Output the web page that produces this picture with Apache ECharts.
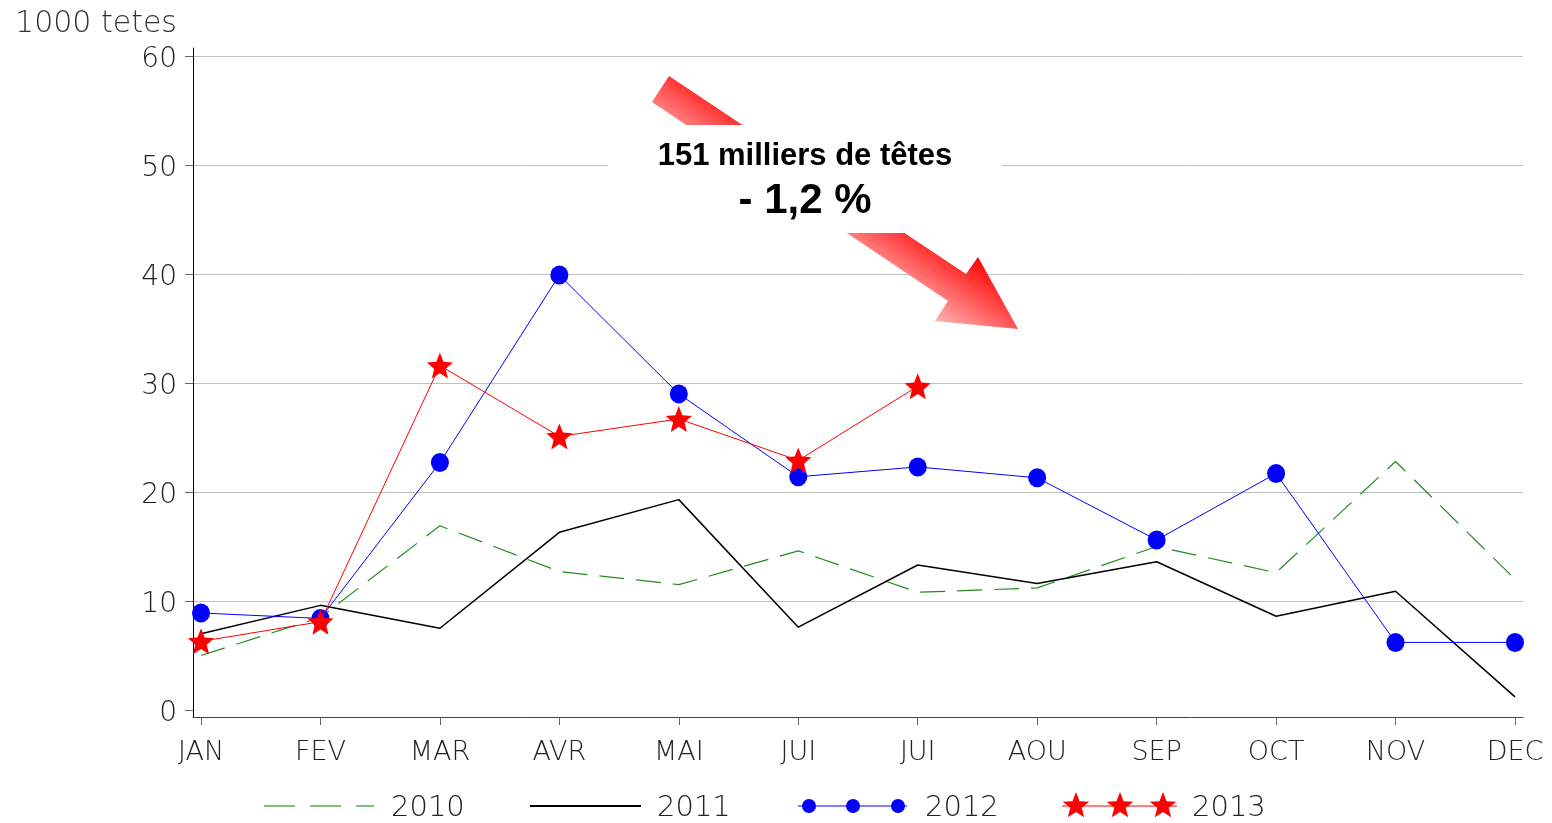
<!DOCTYPE html>
<html><head><meta charset="utf-8">
<script src="https://cdn.jsdelivr.net/npm/echarts@6/dist/echarts.min.js"></script>
<style>html,body{margin:0;padding:0;background:#fff}#c{width:1552px;height:823px}</style>
</head><body><div id="c"></div>
<script>
// ---- data ----
const months = ['JAN','FEV','MAR','AVR','MAI','JUI','JUI','AOU','SEP','OCT','NOV','DEC'];
const y2010 = [5.0, 8.5, 16.9, 12.7, 11.5, 14.6, 10.8, 11.2, 15.0, 12.6, 22.8, 12.0];
const y2011 = [7.0, 9.6, 7.5, 16.3, 19.3, 7.6, 13.3, 11.6, 13.6, 8.6, 10.9, 1.2];
const y2012 = [8.9, 8.4, 22.7, 39.9, 29.0, 21.4, 22.3, 21.3, 15.6, 21.7, 6.2, 6.2];
const y2013 = [6.3, 8.1, 31.6, 25.1, 26.7, 22.9, 29.7];
const yTicks = [0, 10, 20, 30, 40, 50, 60];
const seriesNames = ['2010', '2011', '2012', '2013'];
const yUnit = '1000 tetes';
const noteLine1 = '151 milliers de têtes';
const noteLine2 = '- 1,2 %';

// ---- styling helpers ----
const LIGHT = '"DejaVu Sans"';
const STAR = 'path://M0,-10L2.6,-3.6L9.5,-3.1L4.2,1.4L5.9,8.1L0,4.4L-5.9,8.1L-4.2,1.4L-9.5,-3.1L-2.6,-3.6Z';
const monthIdx = months.map((m, i) => i);
const pairs = arr => arr.map((v, i) => [i, v]);
const X_MIN = -0.067, X_MAX = 11.067;

function starPoints(cx, cy, R, r) {
  const pts = [];
  for (let k = 0; k < 10; k++) {
    const a = -Math.PI / 2 + k * Math.PI / 5;
    const rad = k % 2 === 0 ? R : r;
    pts.push([cx + rad * Math.cos(a), cy + rad * Math.sin(a)]);
  }
  return pts;
}

const chart = echarts.init(document.getElementById('c'), null, {renderer: 'canvas'});

const legendY = 806;
const legendText = (x, t) => ({type: 'text', x: x, y: legendY + 2, z: 10,
  style: {text: t, fill: '#222', font: '200 29px ' + LIGHT, textVerticalAlign: 'middle', textAlign: 'left'}});

const graphics = [
  // y unit
  {type: 'text', x: 177, y: 24, style: {text: yUnit, fill: '#333', font: '200 30px ' + LIGHT, textAlign: 'right', textVerticalAlign: 'middle'}},
  // arrow
  {type: 'polygon', z: 5, shape: {points: [[669,76],[966,274],[978,257],[1018,329],[935,321],[948,301],[652,102]]},
   style: {fill: {type: 'linear', x: 639, y: 121, x2: 682, y2: 57, global: true,
     colorStops: [{offset: 0, color: '#ffb0b0'}, {offset: 1, color: '#ff0000'}]}}},
  {type: 'rect', z: 6, shape: {x: 608, y: 125, width: 394, height: 108}, style: {fill: '#fff'}},
  {type: 'text', z: 7, x: 805, y: 156, style: {text: noteLine1, fill: '#000', font: 'bold 31px "Liberation Sans", Arial', textAlign: 'center', textVerticalAlign: 'middle'}},
  {type: 'text', z: 7, x: 805, y: 201, style: {text: noteLine2, fill: '#000', font: 'bold 42px "Liberation Sans", Arial', textAlign: 'center', textVerticalAlign: 'middle'}},
  // legend 2010
  {type: 'line', z: 10, shape: {x1: 264, y1: legendY, x2: 374, y2: legendY}, style: {stroke: '#7fbf7f', lineWidth: 2, lineDash: [31, 15]}},
  legendText(391, seriesNames[0]),
  // legend 2011
  {type: 'line', z: 10, shape: {x1: 530, y1: legendY, x2: 641, y2: legendY}, style: {stroke: '#000', lineWidth: 2}},
  legendText(657, seriesNames[1]),
  // legend 2012
  {type: 'line', z: 10, shape: {x1: 798, y1: legendY, x2: 907, y2: legendY}, style: {stroke: '#8080ff', lineWidth: 2}},
  {type: 'circle', z: 11, shape: {cx: 809, cy: legendY, r: 7}, style: {fill: '#0000ff'}},
  {type: 'circle', z: 11, shape: {cx: 853, cy: legendY, r: 7}, style: {fill: '#0000ff'}},
  {type: 'circle', z: 11, shape: {cx: 898, cy: legendY, r: 7}, style: {fill: '#0000ff'}},
  legendText(925, seriesNames[2]),
  // legend 2013
  {type: 'line', z: 10, shape: {x1: 1062, y1: legendY, x2: 1177, y2: legendY}, style: {stroke: '#ff8080', lineWidth: 2}},
  {type: 'polygon', z: 11, shape: {points: starPoints(1076, legendY, 14, 6)}, style: {fill: '#ff0000'}},
  {type: 'polygon', z: 11, shape: {points: starPoints(1120, legendY, 14, 6)}, style: {fill: '#ff0000'}},
  {type: 'polygon', z: 11, shape: {points: starPoints(1163, legendY, 14, 6)}, style: {fill: '#ff0000'}},
  legendText(1192, seriesNames[3])
];

const option = {
  animation: false,
  backgroundColor: '#fff',
  grid: [
    {left: 193, right: 29, top: 56, bottom: 113},   // data
    {left: 193, right: 29, top: 48, bottom: 106},   // axis frame
    {left: 193, right: 29, top: 56, bottom: 222}    // gridlines 10..60
  ],
  xAxis: [
    {type: 'value', gridIndex: 0, min: X_MIN, max: X_MAX, show: false},
    {type: 'value', gridIndex: 1, min: X_MIN, max: X_MAX,
     axisLine: {show: true, onZero: false, lineStyle: {color: '#444', width: 1}},
     axisTick: {show: true, length: 8, customValues: monthIdx, lineStyle: {color: '#666'}},
     axisLabel: {customValues: monthIdx, formatter: v => months[v], margin: 22,
       fontFamily: 'DejaVu Sans', fontWeight: 200, fontSize: 27, color: '#222'},
     splitLine: {show: false}},
    {type: 'value', gridIndex: 2, show: false, min: 0, max: 1}
  ],
  yAxis: [
    {type: 'value', gridIndex: 0, min: yTicks[0], max: yTicks[yTicks.length - 1], interval: 10,
     axisLine: {show: false, onZero: false},
     axisTick: {show: true, length: 8, lineStyle: {color: '#666'}},
     axisLabel: {margin: 16, formatter: v => '{t|' + v + '}',
       rich: {t: {fontFamily: 'DejaVu Sans', fontWeight: 200, fontSize: 28, color: '#222', padding: [7, 0, 0, 0]}}},
     splitLine: {show: false}},
    {type: 'value', gridIndex: 1, min: 0, max: 1,
     axisLine: {show: true, onZero: false, lineStyle: {color: '#000', width: 1}},
     axisTick: {show: false}, axisLabel: {show: false}, splitLine: {show: false}},
    {type: 'value', gridIndex: 2, min: yTicks[1], max: yTicks[yTicks.length - 1], interval: 10,
     axisLine: {show: false, onZero: false}, axisTick: {show: false}, axisLabel: {show: false},
     splitLine: {show: true, lineStyle: {color: '#c0c0c0', width: 1}}}
  ],
  series: [
    {name: seriesNames[0], type: 'line', data: pairs(y2010), symbol: 'none',
     lineStyle: {color: '#228b22', width: 1.2, type: [25, 12]}, z: 2},
    {name: seriesNames[1], type: 'line', data: pairs(y2011), symbol: 'none',
     lineStyle: {color: '#000', width: 1.5}, z: 3},
    {name: seriesNames[2], type: 'line', data: pairs(y2012), symbol: 'circle', symbolSize: [18, 19],
     itemStyle: {color: '#0000ff'}, lineStyle: {color: '#0000ff', width: 1}, z: 4},
    {name: seriesNames[3], type: 'line', data: pairs(y2013), symbol: STAR, symbolSize: [26, 26],
     itemStyle: {color: '#ff0000'}, lineStyle: {color: '#ff0000', width: 1}, z: 5}
  ],
  graphic: graphics
};
chart.setOption(option);
</script>
</body></html>
